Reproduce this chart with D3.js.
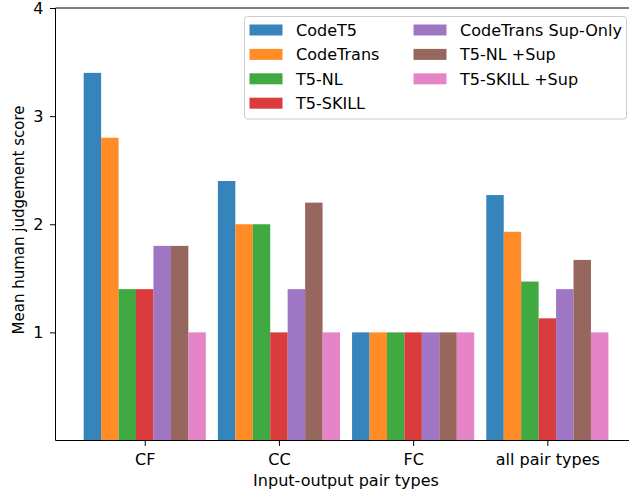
<!DOCTYPE html>
<html>
<head>
<meta charset="utf-8">
<script src="https://cdn.jsdelivr.net/npm/d3@7"></script>
<style>
  html, body { margin: 0; padding: 0; background: #fff; }
  svg { display: block; font-family: "DejaVu Sans", sans-serif; }
</style>
</head>
<body>
<svg id="chart" width="629" height="495"></svg>
<script>
// Pair types on the x axis
const categories = ["CF", "CC", "FC", "all pair types"];

// Models, in bar order within each group
const seriesNames = ["CodeT5", "CodeTrans", "T5-NL", "T5-SKILL",
                     "CodeTrans Sup-Only", "T5-NL +Sup", "T5-SKILL +Sup"];

// Mean human judgement score per model, one entry per pair type
const codeT5         = [3.4, 2.4, 1.0, 2.27];
const codeTrans      = [2.8, 2.0, 1.0, 1.93];
const t5NL           = [1.4, 2.0, 1.0, 1.47];
const t5Skill        = [1.4, 1.0, 1.0, 1.13];
const codeTransSup   = [1.8, 1.4, 1.0, 1.40];
const t5NLSup        = [1.8, 2.2, 1.0, 1.67];
const t5SkillSup     = [1.0, 1.0, 1.0, 1.00];

const yTicks = [1, 2, 3, 4];

const seriesValues = [codeT5, codeTrans, t5NL, t5Skill, codeTransSup, t5NLSup, t5SkillSup];
const colors = ["#1f77b4", "#ff7f0e", "#2ca02c", "#d62728", "#9467bd", "#8c564b", "#e377c2"];

const svg = d3.select("#chart");
const plotLeft = 55.5, plotTop = 8, plotBottom = 440.5;
const barW = 0.13;
const fontSize = 15;
const stretch = "scale(1.07,1)";   // slightly wide lettering

// x: category index; the plot runs past the right edge of the canvas
const x = d3.scaleLinear().domain([-0.665, 3.665]).range([plotLeft, plotLeft + 4.33 * 134.2]);
const y = d3.scaleLinear().domain([0, 4]).range([plotBottom, plotTop]);

// Bars
const bars = svg.append("g");
seriesValues.forEach((vals, s) => {
  bars.selectAll(null)
    .data(vals)
    .enter()
    .append("rect")
    .attr("x", (d, i) => x(i + (s - 3.5) * barW))
    .attr("width", x(barW) - x(0))
    .attr("y", d => y(d))
    .attr("height", d => y(0) - y(d))
    .attr("fill", colors[s])
    .attr("fill-opacity", 0.9);
});

// Axes
const xAxis = d3.axisBottom(x)
  .tickValues(d3.range(categories.length))
  .tickFormat(i => categories[i])
  .tickSize(5.5);
const gx = svg.append("g").attr("transform", `translate(0,${plotBottom})`).call(xAxis);
gx.selectAll("text").attr("y", 24.5).attr("dy", null).attr("transform", stretch);

const yAxis = d3.axisLeft(y).tickValues(yTicks).tickFormat(d3.format("d")).tickSize(5.5);
const gy = svg.append("g").attr("transform", `translate(${plotLeft},0)`).call(yAxis);
gy.selectAll("text").attr("x", -12 / 1.07).attr("dy", "0.36em").attr("transform", stretch);

[gx, gy].forEach(g => {
  g.select(".domain").remove();
  g.selectAll("text").attr("font-size", fontSize).attr("fill", "#000")
    .attr("font-family", "'DejaVu Sans', sans-serif");
  g.selectAll("line").attr("stroke", "#000").attr("stroke-width", 1);
});

// Spines
const xr = x.range()[1];
svg.append("line").attr("x1", plotLeft).attr("x2", plotLeft).attr("y1", plotTop).attr("y2", plotBottom)
  .attr("stroke", "#000").attr("stroke-width", 1);
svg.append("line").attr("x1", plotLeft).attr("x2", xr).attr("y1", plotBottom).attr("y2", plotBottom)
  .attr("stroke", "#000").attr("stroke-width", 1);
svg.append("line").attr("x1", plotLeft).attr("x2", xr).attr("y1", plotTop).attr("y2", plotTop)
  .attr("stroke", "#000").attr("stroke-width", 1);

// Axis titles
svg.append("text")
  .attr("transform", `translate(${x(1.5)},486) ${stretch}`)
  .attr("text-anchor", "middle").attr("font-size", fontSize)
  .text("Input-output pair types");
svg.append("text")
  .attr("transform", `translate(24,220) rotate(-90)`)
  .attr("text-anchor", "middle").attr("font-size", fontSize)
  .text("Mean human judgement score");

// Legend, two columns
const lg = svg.append("g");
lg.append("rect")
  .attr("x", 244.5).attr("y", 16.5).attr("width", 382).attr("height", 102.5)
  .attr("rx", 3).attr("fill", "#fff").attr("fill-opacity", 0.8)
  .attr("stroke", "#ccc").attr("stroke-width", 1);
const colX = [249.5, 413.5];
const rowY0 = 30, rowDy = 24.4;
seriesNames.forEach((name, i) => {
  const col = i < 4 ? 0 : 1;
  const row = i < 4 ? i : i - 4;
  const cy = rowY0 + row * rowDy;
  lg.append("rect")
    .attr("x", colX[col]).attr("y", cy - 5.5)
    .attr("width", 33).attr("height", 11)
    .attr("fill", colors[i]).attr("fill-opacity", 0.9);
  lg.append("text")
    .attr("transform", `translate(${colX[col] + 46.5},${cy + 5.8}) ${stretch}`)
    .attr("font-size", fontSize)
    .text(name);
});
</script>
</body>
</html>
